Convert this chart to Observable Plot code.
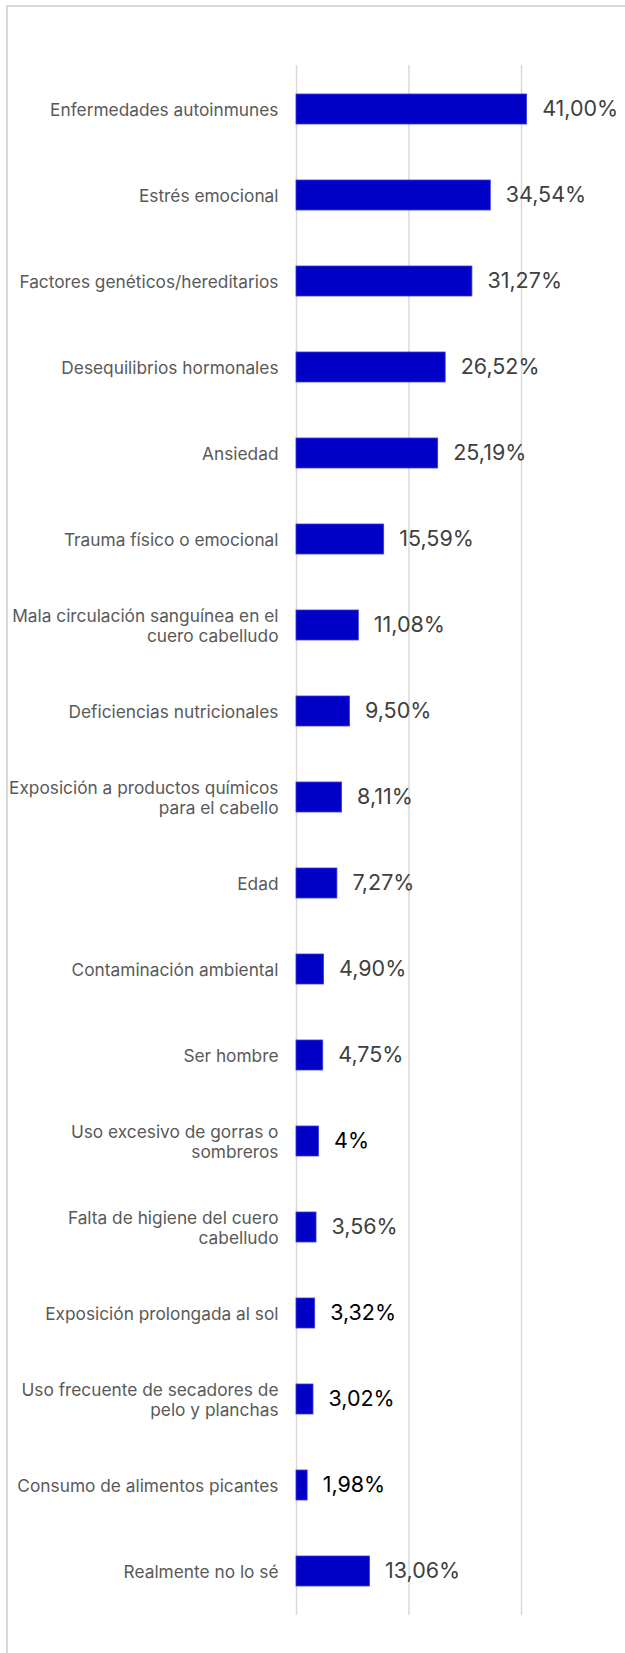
<!DOCTYPE html>
<html>
<head>
<meta charset="utf-8">
<script src="https://cdn.jsdelivr.net/npm/d3@7"></script>
<script src="https://cdn.jsdelivr.net/npm/@observablehq/plot@0.6"></script>
<style>
  html, body { margin: 0; padding: 0; background: #fff; }
  #wrap { position: relative; width: 625px; height: 1653px; overflow: hidden; }
  #frame { position: absolute; left: 6px; top: 5px; width: 640px; height: 1670px;
           border: 2px solid #d9d9d9; box-sizing: border-box; }
  #chart { position: absolute; left: 0; top: 0; }
</style>
</head>
<body>
<div id="wrap"><div id="frame"></div><div id="chart"></div></div>
<script>
const categories = [
  "Enfermedades autoinmunes",
  "Estrés emocional",
  "Factores genéticos/hereditarios",
  "Desequilibrios hormonales",
  "Ansiedad",
  "Trauma físico o emocional",
  "Mala circulación sanguínea en el\ncuero cabelludo",
  "Deficiencias nutricionales",
  "Exposición a productos químicos\npara el cabello",
  "Edad",
  "Contaminación ambiental",
  "Ser hombre",
  "Uso excesivo de gorras o\nsombreros",
  "Falta de higiene del cuero\ncabelludo",
  "Exposición prolongada al sol",
  "Uso frecuente de secadores de\npelo y planchas",
  "Consumo de alimentos picantes",
  "Realmente no lo sé"
];
const values = [41.00, 34.54, 31.27, 26.52, 25.19, 15.59, 11.08, 9.50, 8.11, 7.27, 4.90, 4.75, 4, 3.56, 3.32, 3.02, 1.98, 13.06];
const valueLabels = ["41,00%", "34,54%", "31,27%", "26,52%", "25,19%", "15,59%", "11,08%", "9,50%", "8,11%", "7,27%", "4,90%", "4,75%", "4%", "3,56%", "3,32%", "3,02%", "1,98%", "13,06%"];
const xTicks = [0, 20, 40];

// labels that appear in black in the original
const blackLabels = new Set([
  "Uso excesivo de gorras o\nsombreros",
  "Exposición prolongada al sol",
  "Uso frecuente de secadores de\npelo y planchas",
  "Consumo de alimentos picantes"
]);

const data = categories.map((c, i) => ({cat: c, value: values[i], label: valueLabels[i]}));

const chart = Plot.plot({
  width: 625,
  height: 1653,
  marginTop: 65,
  marginBottom: 38,
  marginLeft: 296,
  marginRight: 104,
  style: {background: "transparent", fontFamily: "Inter, 'Open Sans', sans-serif"},
  x: {domain: [0, 40], axis: null},
  y: {domain: categories, paddingInner: 0.652, paddingOuter: 0.326, axis: null},
  marks: [
    Plot.gridX(xTicks, {stroke: "#d9d9d9", strokeOpacity: 1, strokeWidth: 1.5}),
    Plot.barX(data, {y: "cat", x: "value", fill: "#0000C6", stroke: "#3a3ade", strokeWidth: 0.8}),
    Plot.axisY({tickSize: 0, tickPadding: 18, fontSize: 17.3, lineHeight: 1.16, fill: "#595959", label: null}),
    Plot.text(data, {
      y: "cat", x: "value", text: "label", dx: 15, textAnchor: "start",
      fontSize: 21.5,
      fill: d => blackLabels.has(d.cat) ? "#000000" : "#404040",
      fontFamily: d => blackLabels.has(d.cat) ? "'Liberation Sans', Arial, sans-serif" : "Inter, 'Open Sans', sans-serif"
    })
  ]
});
document.getElementById("chart").appendChild(chart);
</script>
</body>
</html>
